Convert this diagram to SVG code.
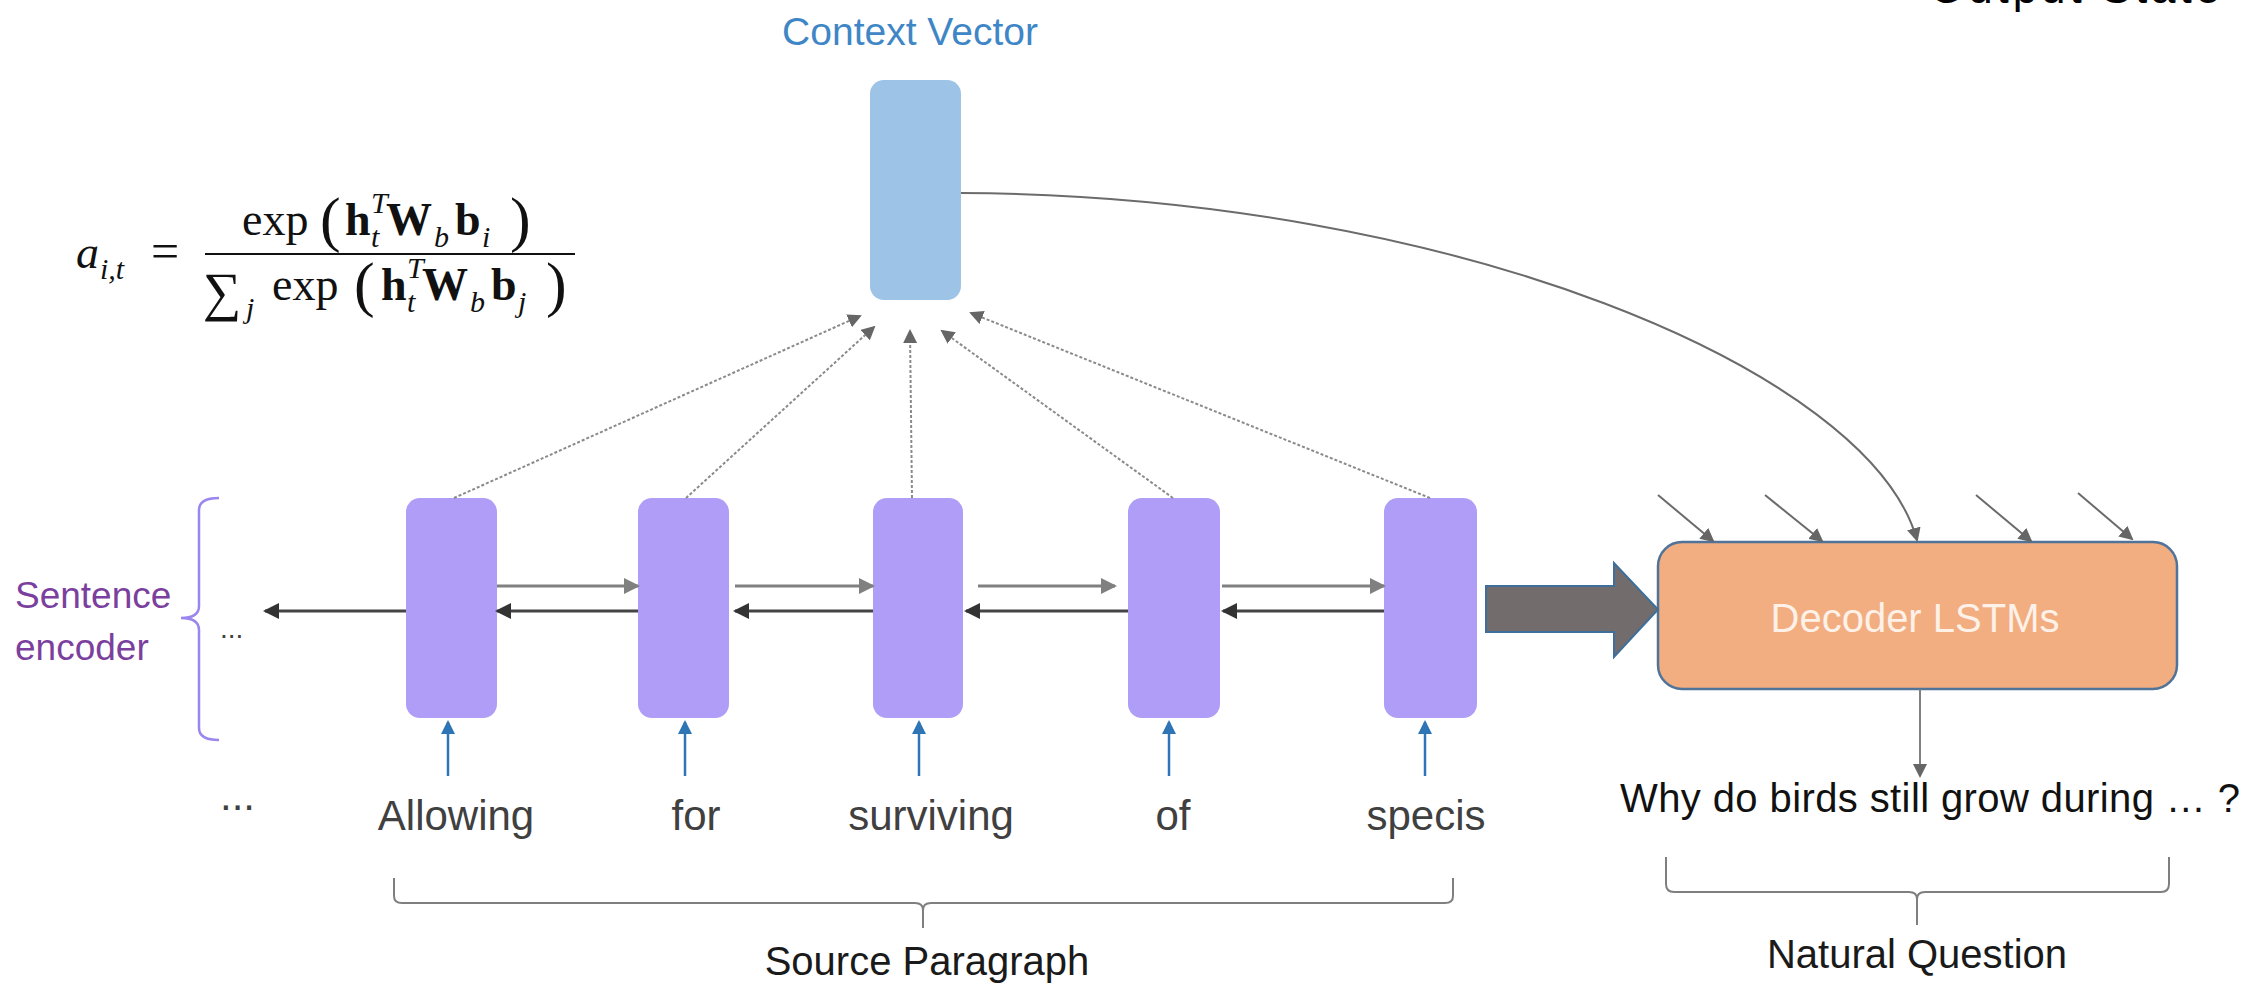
<svg xmlns="http://www.w3.org/2000/svg" width="2267" height="990" viewBox="0 0 2267 990">
  <defs>
    <style>
      .enc { fill: #b09df7; }
      .ctx { fill: #9dc3e6; }
      .dec { fill: #f2ad80; stroke: #4f7399; stroke-width: 2.5; }
      .word { font-family: "Liberation Sans", "Open Sans", sans-serif; font-size: 42px; fill: #404040; }
      .label { font-family: "Liberation Sans", "Open Sans", sans-serif; font-size: 40px; fill: #1a1a1a; }
      .math { font-family: "Liberation Serif", "DejaVu Serif", serif; fill: #111; }
      .bf { font-weight: bold; }
      .it { font-style: italic; }
      .fwd { stroke: #808080; stroke-width: 3; fill: none; }
      .bwd { stroke: #444; stroke-width: 3; fill: none; }
      .inp { stroke: #2e75b6; stroke-width: 2.5; fill: none; }
      .att { stroke: #8a8a8a; stroke-width: 2; stroke-dasharray: 3 2; fill: none; }
      .thin { stroke: #6b6b6b; stroke-width: 2; fill: none; }
      .brace { stroke: #7f7f7f; stroke-width: 2; fill: none; }
    </style>
    <marker id="hFwd" markerUnits="userSpaceOnUse" markerWidth="16" markerHeight="16" refX="14" refY="8" orient="auto">
      <path d="M0 0 L16 8 L0 16 Z" fill="#808080"/>
    </marker>
    <marker id="hBwd" markerUnits="userSpaceOnUse" markerWidth="16" markerHeight="16" refX="14" refY="8" orient="auto">
      <path d="M0 0 L16 8 L0 16 Z" fill="#333"/>
    </marker>
    <marker id="hBlue" markerUnits="userSpaceOnUse" markerWidth="14" markerHeight="14" refX="12" refY="7" orient="auto">
      <path d="M0 0 L14 7 L0 14 Z" fill="#2e75b6"/>
    </marker>
    <marker id="hGray" markerUnits="userSpaceOnUse" markerWidth="14" markerHeight="14" refX="12" refY="7" orient="auto">
      <path d="M0 0 L14 7 L0 14 Z" fill="#666"/>
    </marker>
  </defs>

  <rect width="2267" height="990" fill="#ffffff"/>

  <!-- heading clipped at the top edge -->
  <text x="1930" y="3" font-family="Liberation Sans, sans-serif" font-size="44" fill="#000" textLength="290">Output State</text>

  <!-- attention weight formula -->
  <g id="formula" class="math">
    <text x="76" y="268" font-size="46" class="it">a</text>
    <text x="100" y="279" font-size="30" class="it">i,t</text>
    <text x="151" y="268" font-size="50">=</text>
    <line x1="205" y1="254" x2="575" y2="254" stroke="#111" stroke-width="2"/>
    <!-- numerator -->
    <text x="242" y="235" font-size="46">exp</text>
    <text x="320" y="240" font-size="62">(</text>
    <text x="345" y="235" font-size="46" class="bf">h</text>
    <text x="371" y="213" font-size="30" class="it">T</text>
    <text x="371" y="247" font-size="30" class="it">t</text>
    <text x="386" y="235" font-size="46" class="bf">W</text>
    <text x="434" y="247" font-size="30" class="it">b</text>
    <text x="455" y="235" font-size="46" class="bf">b</text>
    <text x="482" y="247" font-size="30" class="it">i</text>
    <text x="510" y="240" font-size="62">)</text>
    <!-- denominator -->
    <text x="203" y="310" font-size="54">∑</text>
    <text x="246" y="318" font-size="30" class="it">j</text>
    <text x="272" y="300" font-size="46">exp</text>
    <text x="354" y="305" font-size="62">(</text>
    <text x="381" y="300" font-size="46" class="bf">h</text>
    <text x="407" y="278" font-size="30" class="it">T</text>
    <text x="407" y="312" font-size="30" class="it">t</text>
    <text x="422" y="300" font-size="46" class="bf">W</text>
    <text x="470" y="312" font-size="30" class="it">b</text>
    <text x="491" y="300" font-size="46" class="bf">b</text>
    <text x="518" y="312" font-size="30" class="it">j</text>
    <text x="546" y="305" font-size="62">)</text>
  </g>

  <!-- context vector -->
  <g id="context">
    <text x="910" y="45" text-anchor="middle" font-family="Liberation Sans, sans-serif" font-size="39" fill="#3f86c6">Context Vector</text>
    <rect class="ctx" x="870" y="80" width="91" height="220" rx="14"/>
  </g>

  <!-- sentence encoder label and bracket -->
  <g id="encoder-label">
    <text x="15" y="608" font-family="Liberation Sans, sans-serif" font-size="37" fill="#7b3f9e">Sentence</text>
    <text x="15" y="660" font-family="Liberation Sans, sans-serif" font-size="37" fill="#7b3f9e">encoder</text>
    <path d="M219 498 Q199 498 199 510 L199 606 Q199 618 181 618 Q199 618 199 630 L199 728 Q199 740 219 740" stroke="#9a86ee" stroke-width="2.5" fill="none"/>
    <text x="220" y="638" font-family="Liberation Sans, sans-serif" font-size="28" fill="#404040">...</text>
  </g>

  <!-- encoder cells -->
  <g id="enc1"><rect class="enc" x="406" y="498" width="91" height="220" rx="14"/></g>
  <g id="enc2"><rect class="enc" x="638" y="498" width="91" height="220" rx="14"/></g>
  <g id="enc3"><rect class="enc" x="873" y="498" width="90" height="220" rx="14"/></g>
  <g id="enc4"><rect class="enc" x="1128" y="498" width="92" height="220" rx="14"/></g>
  <g id="enc5"><rect class="enc" x="1384" y="498" width="93" height="220" rx="14"/></g>

  <!-- decoder -->
  <g id="decoder">
    <rect class="dec" x="1658" y="542" width="519" height="147" rx="24"/>
    <text x="1915" y="632" text-anchor="middle" font-family="Liberation Sans, sans-serif" font-size="40" fill="#fdf1e8">Decoder LSTMs</text>
  </g>

  <!-- input words -->
  <g id="words">
    <text class="word" x="220" y="810">...</text>
    <text class="word" x="456" y="830" text-anchor="middle">Allowing</text>
    <text class="word" x="696" y="830" text-anchor="middle">for</text>
    <text class="word" x="931" y="830" text-anchor="middle">surviving</text>
    <text class="word" x="1173" y="830" text-anchor="middle">of</text>
    <text class="word" x="1426" y="830" text-anchor="middle">specis</text>
  </g>

  <!-- generated question -->
  <g id="question">
    <text x="1620" y="812" font-family="Liberation Sans, sans-serif" font-size="40" fill="#111" textLength="620">Why do birds still grow during … ?</text>
  </g>

  <!-- group braces and captions -->
  <g id="source-brace">
    <path class="brace" d="M394 878 L394 896 Q394 903 402 903 L915 903 Q923 903 923 910 L923 928 M923 910 Q923 903 931 903 L1445 903 Q1453 903 1453 896 L1453 878"/>
    <text class="label" x="927" y="975" text-anchor="middle">Source Paragraph</text>
  </g>
  <g id="question-brace">
    <path class="brace" d="M1666 857 L1666 884 Q1666 892 1674 892 L1909 892 Q1917 892 1917 899 L1917 925 M1917 899 Q1917 892 1925 892 L2161 892 Q2169 892 2169 884 L2169 857"/>
    <text class="label" x="1917" y="968" text-anchor="middle">Natural Question</text>
  </g>

  <!-- connectors -->
  <g id="connectors">
    <!-- forward recurrence -->
    <line class="fwd" x1="497" y1="586" x2="638" y2="586" marker-end="url(#hFwd)"/>
    <line class="fwd" x1="735" y1="586" x2="873" y2="586" marker-end="url(#hFwd)"/>
    <line class="fwd" x1="978" y1="586" x2="1115" y2="586" marker-end="url(#hFwd)"/>
    <line class="fwd" x1="1222" y1="586" x2="1384" y2="586" marker-end="url(#hFwd)"/>
    <!-- backward recurrence -->
    <line class="bwd" x1="406" y1="611" x2="265" y2="611" marker-end="url(#hBwd)"/>
    <line class="bwd" x1="638" y1="611" x2="497" y2="611" marker-end="url(#hBwd)"/>
    <line class="bwd" x1="873" y1="611" x2="735" y2="611" marker-end="url(#hBwd)"/>
    <line class="bwd" x1="1128" y1="611" x2="966" y2="611" marker-end="url(#hBwd)"/>
    <line class="bwd" x1="1384" y1="611" x2="1223" y2="611" marker-end="url(#hBwd)"/>
    <!-- word inputs -->
    <line class="inp" x1="448" y1="776" x2="448" y2="722" marker-end="url(#hBlue)"/>
    <line class="inp" x1="685" y1="776" x2="685" y2="722" marker-end="url(#hBlue)"/>
    <line class="inp" x1="919" y1="776" x2="919" y2="722" marker-end="url(#hBlue)"/>
    <line class="inp" x1="1169" y1="776" x2="1169" y2="722" marker-end="url(#hBlue)"/>
    <line class="inp" x1="1425" y1="776" x2="1425" y2="722" marker-end="url(#hBlue)"/>
    <!-- attention -->
    <line class="att" x1="454" y1="498" x2="860" y2="316" marker-end="url(#hGray)"/>
    <line class="att" x1="686" y1="498" x2="874" y2="327" marker-end="url(#hGray)"/>
    <line class="att" x1="912" y1="498" x2="910" y2="331" marker-end="url(#hGray)"/>
    <line class="att" x1="1173" y1="498" x2="942" y2="331" marker-end="url(#hGray)"/>
    <line class="att" x1="1430" y1="498" x2="971" y2="313" marker-end="url(#hGray)"/>
    <!-- context to decoder -->
    <path class="thin" d="M961 193 C1450 195 1870 370 1917 540" marker-end="url(#hGray)"/>
    <!-- previous decoder inputs -->
    <line class="thin" x1="1658" y1="495" x2="1713" y2="541" marker-end="url(#hGray)"/>
    <line class="thin" x1="1765" y1="495" x2="1822" y2="541" marker-end="url(#hGray)"/>
    <line class="thin" x1="1976" y1="495" x2="2031" y2="541" marker-end="url(#hGray)"/>
    <line class="thin" x1="2078" y1="493" x2="2132" y2="539" marker-end="url(#hGray)"/>
    <!-- encoder state to decoder -->
    <path d="M1486 586 L1614 586 L1614 563 L1658 609.5 L1614 657 L1614 632 L1486 632 Z" fill="#726c6c" stroke="#3d6f9a" stroke-width="2"/>
    <!-- decoder output -->
    <line x1="1920" y1="689" x2="1920" y2="776" stroke="#7f7f7f" stroke-width="2" marker-end="url(#hGray)"/>
  </g>
</svg>
